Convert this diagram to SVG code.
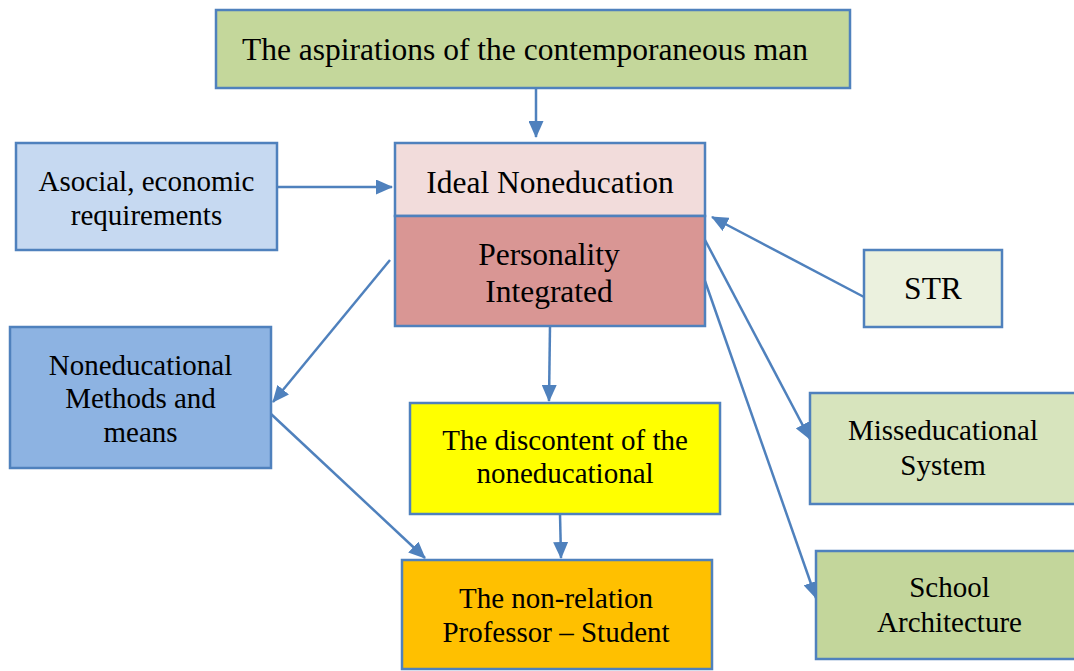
<svg xmlns="http://www.w3.org/2000/svg" width="1074" height="671" viewBox="0 0 1074 671">
  <style>
    .box { stroke: #4f81bd; stroke-width: 2.5; }
    .lbl { font-family: "Liberation Serif", "Times New Roman", serif; font-size: 29px; fill: #000; text-anchor: middle; }
    .big { font-size: 31.5px; }
    .link { stroke: #4f81bd; stroke-width: 2.5; fill: none; marker-end: url(#head); }
  </style>
  <defs>
    <marker id="head" markerUnits="userSpaceOnUse" markerWidth="17" markerHeight="15" refX="16" refY="7.5" orient="auto">
      <path d="M0,0 L17,7.5 L0,15 Z" fill="#4f81bd"/>
    </marker>
  </defs>
  <rect width="1074" height="671" fill="#fff"/>

  <g id="connectors">
    <line class="link" x1="536" y1="88" x2="536" y2="137"/>
    <line class="link" x1="277" y1="187" x2="392" y2="187"/>
    <line class="link" x1="864" y1="297" x2="712" y2="217"/>
    <line class="link" x1="390" y1="260" x2="273" y2="402"/>
    <line class="link" x1="550" y1="326" x2="549" y2="401"/>
    <line class="link" x1="705" y1="240" x2="810" y2="439"/>
    <line class="link" x1="705" y1="281" x2="816" y2="598"/>
    <line class="link" x1="271" y1="414" x2="425" y2="558"/>
    <line class="link" x1="560" y1="514" x2="561" y2="558"/>
  </g>

  <g id="aspirations">
    <rect class="box" x="216" y="10" width="634" height="78" fill="#c4d79b"/>
    <text class="lbl big" x="525" y="60">The aspirations of the contemporaneous man</text>
  </g>

  <g id="ideal">
    <rect class="box" x="395" y="143" width="310" height="73" fill="#f2dcdb"/>
    <text class="lbl big" x="550" y="193">Ideal Noneducation</text>
  </g>

  <g id="personality">
    <rect class="box" x="395" y="216" width="310" height="110" fill="#d99694"/>
    <text class="lbl big" x="549" y="265">Personality</text>
    <text class="lbl big" x="549" y="302">Integrated</text>
  </g>

  <g id="asocial">
    <rect class="box" x="16" y="143" width="261" height="107" fill="#c6d9f1"/>
    <text class="lbl" x="146.5" y="191">Asocial, economic</text>
    <text class="lbl" x="146.5" y="225">requirements</text>
  </g>

  <g id="str">
    <rect class="box" x="864" y="250" width="138" height="77" fill="#ebf1de"/>
    <text class="lbl big" x="933" y="299">STR</text>
  </g>

  <g id="methods">
    <rect class="box" x="10" y="327" width="261" height="141" fill="#8db3e2"/>
    <text class="lbl" x="140.5" y="375">Noneducational</text>
    <text class="lbl" x="140.5" y="408">Methods and</text>
    <text class="lbl" x="140.5" y="442">means</text>
  </g>

  <g id="discontent">
    <rect class="box" x="410" y="403" width="310" height="111" fill="#ffff00"/>
    <text class="lbl" x="565" y="450">The discontent of the</text>
    <text class="lbl" x="565" y="483">noneducational</text>
  </g>

  <g id="misseducational">
    <rect class="box" x="810" y="393" width="270" height="111" fill="#d7e4bd"/>
    <text class="lbl" x="943" y="440">Misseducational</text>
    <text class="lbl" x="943" y="475">System</text>
  </g>

  <g id="professor-student">
    <rect class="box" x="402" y="560" width="310" height="109" fill="#ffc000"/>
    <text class="lbl" x="556" y="608">The non-relation</text>
    <text class="lbl" x="556" y="642">Professor – Student</text>
  </g>

  <g id="architecture">
    <rect class="box" x="816" y="551" width="264" height="108" fill="#c3d69b"/>
    <text class="lbl" x="949.5" y="597">School</text>
    <text class="lbl" x="949.5" y="632">Architecture</text>
  </g>
</svg>
